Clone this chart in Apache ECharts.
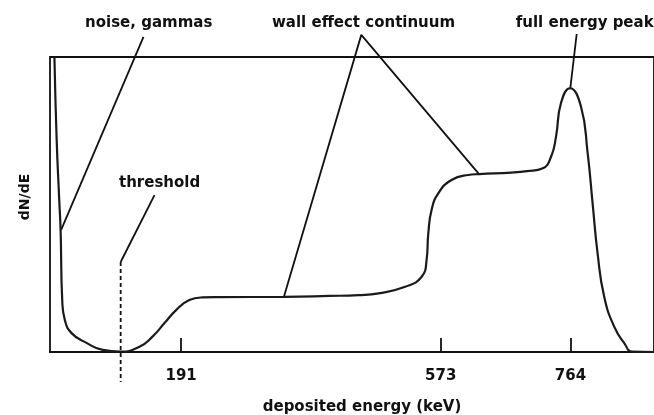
<!DOCTYPE html>
<html>
<head>
<meta charset="utf-8">
<script src="https://cdn.jsdelivr.net/npm/echarts@6/dist/echarts.min.js"></script>
<style>html,body{margin:0;padding:0;background:#fff;}#c{width:654px;height:415px;}</style>
</head>
<body>
<div id="c"></div>
<script>
// Spectrum curve (deposited energy keV, relative dN/dE)
var energy = [4.5, 7.8, 11.6, 13.6, 16, 19.9, 29.7, 51.7, 75.6, 102, 129.8, 148.9, 166.5, 183.6, 203.1, 222.2, 247, 342.3, 408.3, 452.3, 481.6, 520.7, 545, 552.3, 554.8, 559.6, 569.5, 589, 613.4, 629.5, 676.9, 700, 723.3, 735.5, 742.8, 750.1, 763.3, 779.5, 789.3, 796.6, 803.9, 813.7, 828.4, 843, 855.2, 887];
var dNdE   = [100, 72, 51.5, 41.4, 17.6, 10.8, 6.4, 3.1, 0.7, 0.1, 1.8, 5.2, 9.8, 14.2, 17.6, 18.5, 18.6, 18.7, 19.0, 19.3, 19.9, 22.1, 25.5, 31.2, 40.2, 48.1, 53.8, 58.3, 60, 60.3, 60.8, 61.3, 62.3, 66.2, 73, 84.4, 89.4, 83.2, 67.5, 50.5, 33.6, 18.7, 8.6, 3.1, 0.1, 0];

// Tick values on the energy axis
var tickValues = [191, 573, 764];

// Annotation texts and their anchor positions (data units)
var annoText = ['noise, gammas', 'wall effect continuum', 'full energy peak', 'threshold'];
var annoX = [143.3, 459.5, 785, 159.3];
var annoY = [111.6, 111.6, 111.6, 57.3];

// Annotation leader lines (data units)
var noiseLine = [[135.6, 106.8], [14.4, 41.4]];
var wallLine = [[342.3, 18.7], [456.2, 107.5], [629.5, 60.3]];
var peakLine = [[773.2, 107.8], [763.9, 89.5]];
var threshLine = [[151.8, 53.2], [102, 30.5]];
var threshDash = [[102, 30.5], [102, -10.2]];

var FONT = 'DejaVu Sans';
var chart = echarts.init(document.getElementById('c'), null, {renderer: 'canvas'});

function pairs(xs, ys) { return xs.map(function (x, i) { return [x, ys[i]]; }); }
function leader(data, dashed) {
  return {
    type: 'line', data: data, symbol: 'none', clip: false, silent: true, z: 3,
    lineStyle: {color: '#111', width: 1.8, type: dashed ? [4, 3] : 'solid'},
    animation: false
  };
}

chart.setOption({
  animation: false,
  backgroundColor: '#fff',
  grid: {left: 50, right: -3, top: 57, bottom: 63, show: true, borderColor: '#111', borderWidth: 1.8, backgroundColor: 'transparent'},
  xAxis: {
    type: 'value', min: -2, max: 887,
    axisLine: {show: true, lineStyle: {color: '#111', width: 1.8}},
    splitLine: {show: false},
    axisTick: {show: true, inside: true, length: 14, customValues: tickValues, lineStyle: {color: '#111', width: 1.8}},
    axisLabel: {show: true, customValues: tickValues, margin: 17, color: '#111', fontFamily: FONT, fontWeight: 'bold', fontSize: 15}
  },
  yAxis: {
    type: 'value', min: 0, max: 100,
    axisLine: {show: false},
    axisTick: {show: false}, axisLabel: {show: false}, splitLine: {show: false}
  },
  graphic: [
    {type: 'text', x: 362, y: 407, style: {text: 'deposited energy (keV)', fill: '#111', font: 'bold 15px "DejaVu Sans"', textAlign: 'center', textVerticalAlign: 'middle'}},
    {type: 'text', x: 25, y: 197, rotation: Math.PI / 2, style: {text: 'dN/dE', fill: '#111', font: 'bold 14px "DejaVu Sans"', textAlign: 'center', textVerticalAlign: 'middle'}}
  ],
  series: [
    {
      type: 'line', data: pairs(energy, dNdE), symbol: 'none', smooth: 0.5, clip: true, z: 4,
      lineStyle: {color: '#1a1a1a', width: 2.2}
    },
    leader(noiseLine), leader(wallLine), leader(peakLine), leader(threshLine), leader(threshDash, true),
    {
      type: 'scatter', symbolSize: 0, clip: false, silent: true, z: 5,
      itemStyle: {opacity: 1},
      data: annoText.map(function (t, i) { return {name: t, value: [annoX[i], annoY[i]]}; }),
      label: {show: true, position: 'inside', formatter: '{b}', color: '#111', fontFamily: FONT, fontWeight: 'bold', fontSize: 15}
    }
  ]
});
</script>
</body>
</html>
